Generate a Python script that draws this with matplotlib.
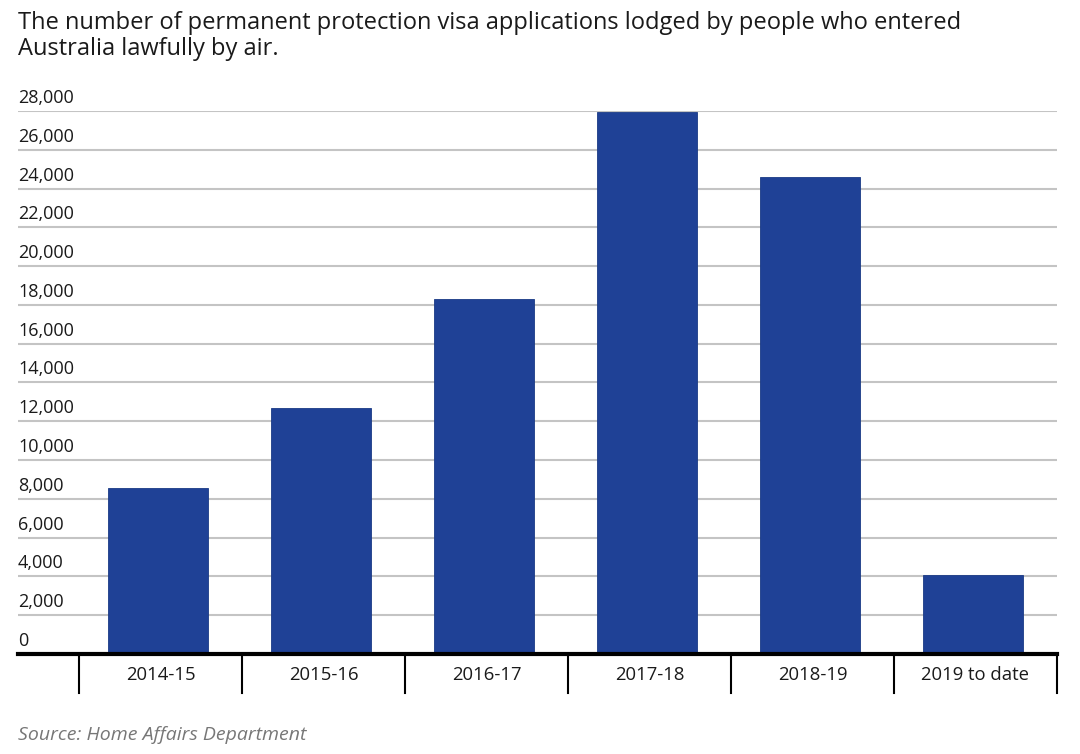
import matplotlib
matplotlib.use("Agg")
import matplotlib.pyplot as plt
import matplotlib.transforms as mtransforms

categories = ["2014-15", "2015-16", "2016-17", "2017-18", "2018-19", "2019 to date"]
values = [8550, 12700, 18300, 27930, 24600, 4050]
yticks = list(range(0, 28001, 2000))
ytick_labels = [f"{v:,}" for v in yticks]

title = ("The number of permanent protection visa applications lodged by people who entered\n"
         "Australia lawfully by air.")
source = "Source: Home Affairs Department"

plt.rcParams['font.family'] = ['Open Sans', 'DejaVu Sans']

W, H = 1080, 754
fig = plt.figure(figsize=(W / 100, H / 100), dpi=100)
fig.patch.set_facecolor("white")

ax_left, ax_right, ax_bottom, ax_top = 18, 1057, 654, 111
ax = fig.add_axes([ax_left / W, (H - ax_bottom) / H, (ax_right - ax_left) / W, (ax_bottom - ax_top) / H])

x = list(range(len(categories)))
bar_x = [xi - 0.015 for xi in x]
ax.bar(bar_x, values, width=0.613, color="#1f4196", edgecolor="#1a3a85", linewidth=0.6, zorder=3)

ax.set_xlim(-0.874, len(categories) - 0.5)
ax.set_ylim(0, 28000)

for s in ["top", "right", "left"]:
    ax.spines[s].set_visible(False)
ax.spines["bottom"].set_linewidth(3)
ax.spines["bottom"].set_color("black")
ax.spines["bottom"].set_zorder(5)

ax.set_yticks(yticks)
ax.yaxis.grid(True, color="#c4c4c4", linewidth=1.5, zorder=0)
ax.tick_params(axis="y", length=0, labelleft=False)
ax.tick_params(axis="x", length=0, labelbottom=False)

trans = mtransforms.blended_transform_factory(ax.transAxes, ax.transData)
trans_off = mtransforms.offset_copy(trans, fig=fig, x=0, y=4, units="dots")
for v, lab in zip(yticks, ytick_labels):
    ax.text(0, v, lab, transform=trans_off, ha="left", va="bottom",
            fontsize=13, color="#1a1a1a", clip_on=False)

# category separators and labels
trans_x = mtransforms.blended_transform_factory(ax.transData, fig.transFigure)
y_axis_fig = (H - ax_bottom) / H
y_sep_bottom = (H - 693) / H
for b in [i - 0.5 for i in range(len(categories) + 1)]:
    ax.plot([b, b], [y_axis_fig, y_sep_bottom], transform=trans_x, color="black",
            linewidth=1.5, clip_on=False)
for xi, c in zip(x, categories):
    ax.text(xi, (H - 675) / H, c, transform=trans_x, ha="center", va="center",
            fontsize=13.3, color="#1a1a1a")

fig.text(18 / W, 1 - 11 / H, title, ha="left", va="top", fontsize=17, color="#1a1a1a",
         linespacing=1.12)
fig.text(18 / W, 1 - 735 / H, source, ha="left", va="center", fontsize=14,
         color="#777777", style="italic")

fig.savefig("out.png", dpi=100, facecolor="white")
